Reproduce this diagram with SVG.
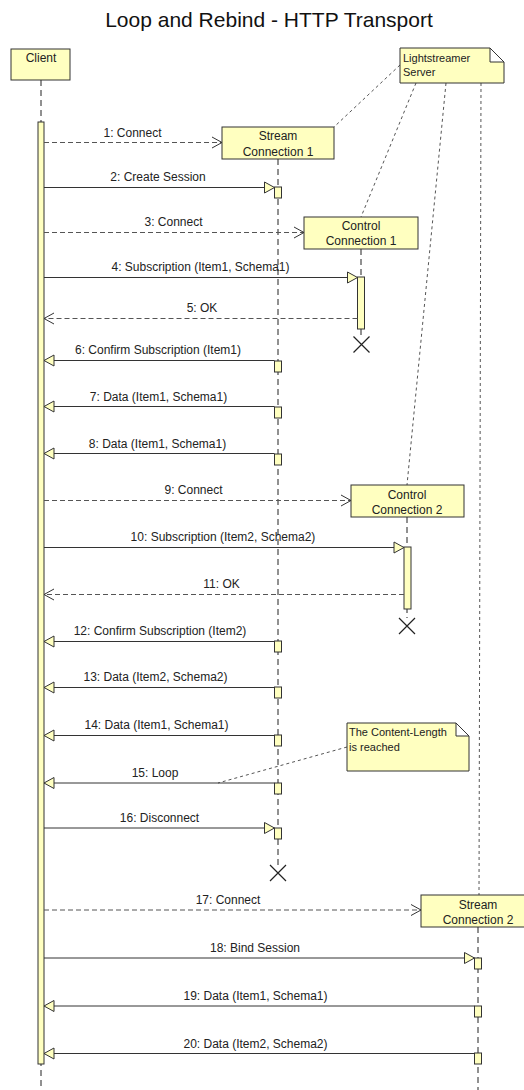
<svg xmlns="http://www.w3.org/2000/svg" width="524" height="1090" viewBox="0 0 524 1090">
<style>
.bg{fill:#ffffff}
.title{font-family:"Liberation Sans",Arial,sans-serif;font-size:21px;fill:#111;text-anchor:middle}
.box{fill:#FFFFC0;stroke:#333;stroke-width:1}
.nt{font-family:"Liberation Sans",Arial,sans-serif;font-size:12px;fill:#222;text-anchor:middle}
.note{fill:#FFFFC0;stroke:#333;stroke-width:1}
.fold{fill:#ffffff;stroke:#333;stroke-width:1}
.notetxt{font-family:"Liberation Sans",Arial,sans-serif;font-size:11px;fill:#222}
.life{stroke:#222;stroke-width:1;stroke-dasharray:6,4;fill:none}
.act{fill:#FFFFC0;stroke:#333;stroke-width:1}
.msg{stroke:#333;stroke-width:1;fill:none}
.ret{stroke:#555;stroke-width:1;fill:none;stroke-dasharray:5,3}
.anchor{stroke:#555;stroke-width:1;fill:none;stroke-dasharray:3,3}
.lbl{font-family:"Liberation Sans",Arial,sans-serif;font-size:12px;fill:#222;text-anchor:middle}
.x{stroke:#222;stroke-width:1.2;fill:none}
</style>
<defs>
<marker id="tri" markerUnits="userSpaceOnUse" viewBox="-1 -1 12 13" markerWidth="12" markerHeight="13" refX="10" refY="5.5" orient="auto">
<path d="M0,0 L10,5.5 L0,11 Z" fill="#FFFFC0" stroke="#333" stroke-width="1"/>
</marker>
<marker id="open" markerUnits="userSpaceOnUse" viewBox="-1 -1 12 13" markerWidth="12" markerHeight="13" refX="10" refY="5.5" orient="auto">
<path d="M0,0 L10,5.5 L0,11" fill="none" stroke="#333" stroke-width="1"/>
</marker>
</defs>
<rect class="bg" x="0" y="0" width="524" height="1090"/>
<text class="title" x="269" y="27">Loop and Rebind - HTTP Transport</text>

<g id="lifelines">
<line class="life" x1="41" y1="80" x2="41" y2="1090"/>
<line class="life" x1="278" y1="159" x2="278" y2="866"/>
<line class="life" x1="361" y1="249" x2="361" y2="337"/>
<line class="life" x1="407" y1="517" x2="407" y2="618"/>
<line class="life" x1="478" y1="927" x2="478" y2="1090"/>
</g>

<g id="note-anchors">
<line class="anchor" x1="400" y1="65" x2="334" y2="127"/>
<line class="anchor" x1="416" y1="83" x2="361" y2="217"/>
<line class="anchor" x1="446" y1="83" x2="407" y2="485"/>
<line class="anchor" x1="481" y1="83" x2="479" y2="895"/>
<line class="anchor" x1="347" y1="747" x2="218" y2="783"/>
</g>

<g id="client">
<rect class="box" x="11" y="49" width="59" height="31"/>
<text class="nt" x="41" y="62">Client</text>
<rect class="act" x="38" y="122" width="6" height="942"/>
</g>

<g id="lightstreamer-server">
<path class="note" d="M400,48 L490,48 L504,62 L504,83 L400,83 Z"/>
<path class="fold" d="M490,48 L490,62 L504,62 Z"/>
<text class="notetxt" x="403" y="62">Lightstreamer</text>
<text class="notetxt" x="403" y="76">Server</text>
</g>

<g id="stream-connection-1">
<rect class="box" x="222" y="127" width="112" height="32"/>
<text class="nt" x="278" y="140">Stream</text>
<text class="nt" x="278" y="156">Connection 1</text>
<rect class="act" x="274.5" y="187" width="7" height="11"/>
<rect class="act" x="274.5" y="361" width="7" height="11"/>
<rect class="act" x="274.5" y="407" width="7" height="11"/>
<rect class="act" x="274.5" y="454" width="7" height="11"/>
<rect class="act" x="274.5" y="641" width="7" height="11"/>
<rect class="act" x="274.5" y="687" width="7" height="11"/>
<rect class="act" x="274.5" y="735" width="7" height="11"/>
<rect class="act" x="274.5" y="783" width="7" height="11"/>
<rect class="act" x="274.5" y="828" width="7" height="11"/>
<path class="x" d="M270,865 L286,881 M286,865 L270,881"/>
</g>

<g id="control-connection-1">
<rect class="box" x="304" y="217" width="114" height="32"/>
<text class="nt" x="361" y="230">Control</text>
<text class="nt" x="361" y="245">Connection 1</text>
<rect class="act" x="357.5" y="277" width="7" height="52"/>
<path class="x" d="M353.5,336.5 L369.5,352.5 M369.5,336.5 L353.5,352.5"/>
</g>

<g id="control-connection-2">
<rect class="box" x="351" y="485" width="113" height="32"/>
<text class="nt" x="407" y="498.5">Control</text>
<text class="nt" x="407" y="513.5">Connection 2</text>
<rect class="act" x="404" y="547" width="7" height="62"/>
<path class="x" d="M399,618 L415,634 M415,618 L399,634"/>
</g>

<g id="stream-connection-2">
<rect class="box" x="421" y="895" width="114" height="32"/>
<text class="nt" x="478" y="908.5">Stream</text>
<text class="nt" x="478" y="923.5">Connection 2</text>
<rect class="act" x="474.5" y="958" width="7" height="11"/>
<rect class="act" x="474.5" y="1006" width="7" height="11"/>
<rect class="act" x="474.5" y="1053" width="7" height="11"/>
</g>

<g id="content-length-note">
<path class="note" d="M347,723 L456,723 L469,736 L469,771 L347,771 Z"/>
<path class="fold" d="M456,723 L456,736 L469,736 Z"/>
<text class="notetxt" x="349" y="736">The Content-Length</text>
<text class="notetxt" x="349" y="751">is reached</text>
</g>

<g id="connectors">
<line class="ret" x1="44" y1="142.5" x2="222" y2="142.5" marker-end="url(#open)"/>
<text class="lbl" x="132.5" y="137">1: Connect</text>
<line class="msg" x1="44" y1="187.5" x2="274.5" y2="187.5" marker-end="url(#tri)"/>
<text class="lbl" x="158" y="181">2: Create Session</text>
<line class="ret" x1="44" y1="232.5" x2="304" y2="232.5" marker-end="url(#open)"/>
<text class="lbl" x="173.5" y="226">3: Connect</text>
<line class="msg" x1="44" y1="277.5" x2="357.5" y2="277.5" marker-end="url(#tri)"/>
<text class="lbl" x="200.5" y="271">4: Subscription (Item1, Schema1)</text>
<line class="ret" x1="357.5" y1="318.5" x2="44" y2="318.5" marker-end="url(#open)"/>
<text class="lbl" x="202" y="312">5: OK</text>
<line class="msg" x1="274.5" y1="360.5" x2="44" y2="360.5" marker-end="url(#tri)"/>
<text class="lbl" x="158" y="354">6: Confirm Subscription (Item1)</text>
<line class="msg" x1="274.5" y1="406.5" x2="44" y2="406.5" marker-end="url(#tri)"/>
<text class="lbl" x="158.5" y="400.5">7: Data (Item1, Schema1)</text>
<line class="msg" x1="274.5" y1="453.5" x2="44" y2="453.5" marker-end="url(#tri)"/>
<text class="lbl" x="157.5" y="447.5">8: Data (Item1, Schema1)</text>
<line class="ret" x1="44" y1="500.5" x2="351" y2="500.5" marker-end="url(#open)"/>
<text class="lbl" x="193.5" y="494">9: Connect</text>
<line class="msg" x1="44" y1="547.5" x2="404" y2="547.5" marker-end="url(#tri)"/>
<text class="lbl" x="223" y="541">10: Subscription (Item2, Schema2)</text>
<line class="ret" x1="404" y1="594.5" x2="44" y2="594.5" marker-end="url(#open)"/>
<text class="lbl" x="221.5" y="588">11: OK</text>
<line class="msg" x1="274.5" y1="641.5" x2="44" y2="641.5" marker-end="url(#tri)"/>
<text class="lbl" x="160" y="635">12: Confirm Subscription (Item2)</text>
<line class="msg" x1="274.5" y1="687.5" x2="44" y2="687.5" marker-end="url(#tri)"/>
<text class="lbl" x="155.5" y="681">13: Data (Item2, Schema2)</text>
<line class="msg" x1="274.5" y1="735.5" x2="44" y2="735.5" marker-end="url(#tri)"/>
<text class="lbl" x="156.5" y="729">14: Data (Item1, Schema1)</text>
<line class="msg" x1="274.5" y1="783" x2="44" y2="783" marker-end="url(#tri)"/>
<text class="lbl" x="155" y="776.5">15: Loop</text>
<line class="msg" x1="44" y1="828" x2="274.5" y2="828" marker-end="url(#tri)"/>
<text class="lbl" x="159.5" y="822">16: Disconnect</text>
<line class="ret" x1="44" y1="910" x2="421" y2="910" marker-end="url(#open)"/>
<text class="lbl" x="228" y="903.5">17: Connect</text>
<line class="msg" x1="44" y1="958" x2="474.5" y2="958" marker-end="url(#tri)"/>
<text class="lbl" x="255" y="951.5">18: Bind Session</text>
<line class="msg" x1="474.5" y1="1006" x2="44" y2="1006" marker-end="url(#tri)"/>
<text class="lbl" x="255.5" y="999.5">19: Data (Item1, Schema1)</text>
<line class="msg" x1="474.5" y1="1053.5" x2="44" y2="1053.5" marker-end="url(#tri)"/>
<text class="lbl" x="255.5" y="1047.5">20: Data (Item2, Schema2)</text>
</g>
</svg>
